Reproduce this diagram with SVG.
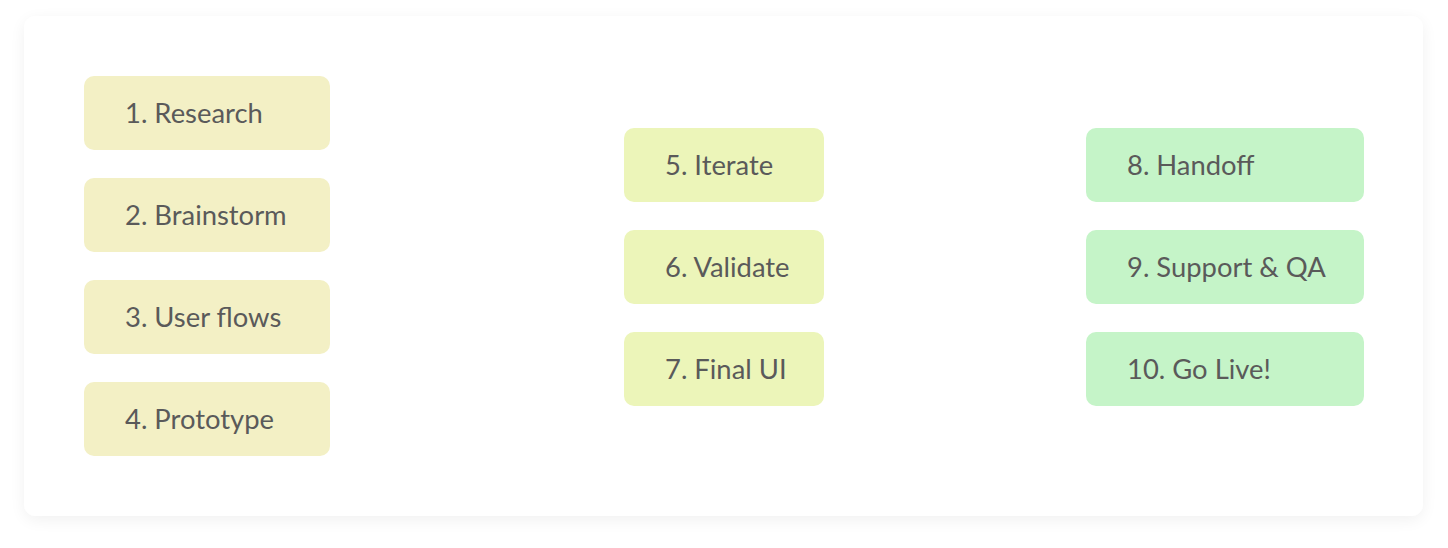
<svg xmlns="http://www.w3.org/2000/svg" width="1448" height="548" viewBox="0 0 1448 548">
<defs>
<filter id="sh" x="-10%" y="-10%" width="120%" height="125%">
<feGaussianBlur in="SourceAlpha" stdDeviation="8"/>
<feOffset dy="4"/>
<feComponentTransfer><feFuncA type="linear" slope="0.06"/></feComponentTransfer>
<feMerge><feMergeNode/><feMergeNode in="SourceGraphic"/></feMerge>
</filter>
<style>
.n rect{rx:10px;ry:10px}
.a rect{fill:#f3f0c5}
.b rect{fill:#ecf5b9}
.c rect{fill:#c5f4c8}
.n text{font-family:Lato,"Open Sans",sans-serif;font-size:27.4px;fill:#5a5a5a}
</style>
</defs>
<rect width="1448" height="548" fill="#ffffff"/>
<rect x="24" y="16" width="1399" height="500" rx="12" fill="#ffffff" filter="url(#sh)"/>
<g id="connectors"/>
<g id="n1" class="n a"><rect x="84" y="76" width="246" height="74"/><text x="125" y="123">1. Research</text></g>
<g id="n2" class="n a"><rect x="84" y="178" width="246" height="74"/><text x="125" y="225">2. Brainstorm</text></g>
<g id="n3" class="n a"><rect x="84" y="280" width="246" height="74"/><text x="125" y="327">3. User flows</text></g>
<g id="n4" class="n a"><rect x="84" y="382" width="246" height="74"/><text x="125" y="429">4. Prototype</text></g>
<g id="n5" class="n b"><rect x="624" y="128" width="200" height="74"/><text x="665" y="175">5. Iterate</text></g>
<g id="n6" class="n b"><rect x="624" y="230" width="200" height="74"/><text x="665" y="277">6. Validate</text></g>
<g id="n7" class="n b"><rect x="624" y="332" width="200" height="74"/><text x="665" y="379">7. Final UI</text></g>
<g id="n8" class="n c"><rect x="1086" y="128" width="278" height="74"/><text x="1127" y="175">8. Handoff</text></g>
<g id="n9" class="n c"><rect x="1086" y="230" width="278" height="74"/><text x="1127" y="277">9. Support &amp; QA</text></g>
<g id="n10" class="n c"><rect x="1086" y="332" width="278" height="74"/><text x="1127" y="379">10. Go Live!</text></g>
</svg>
